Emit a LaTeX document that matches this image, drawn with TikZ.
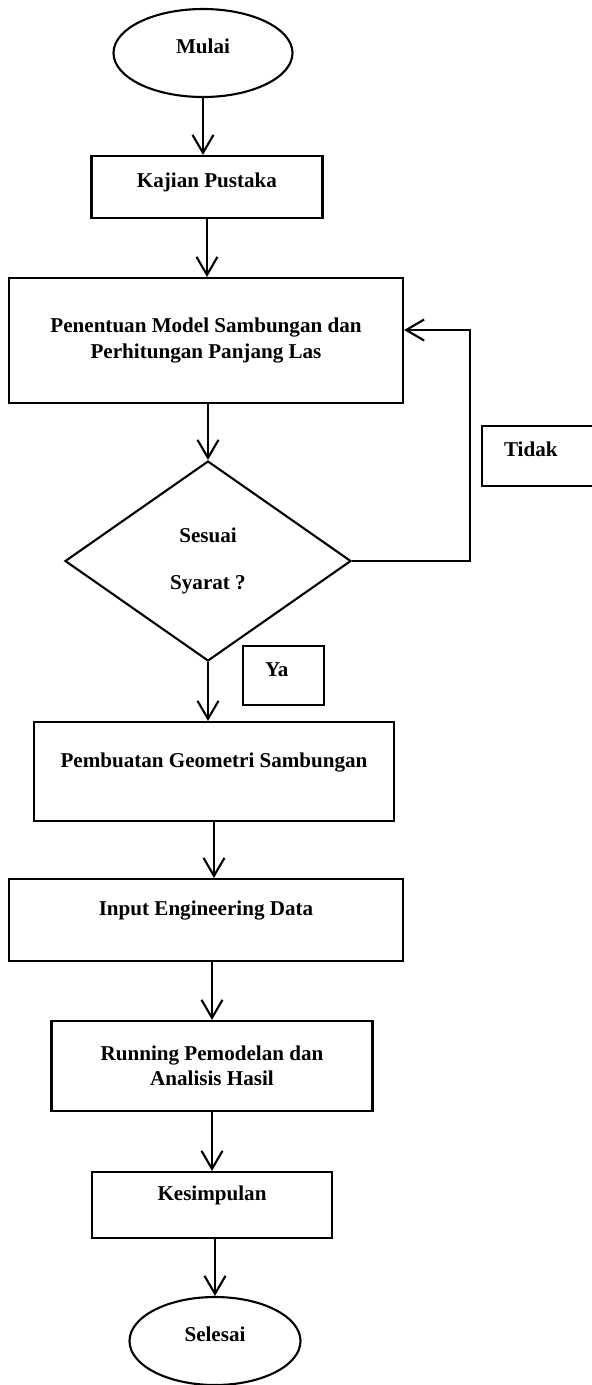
\documentclass[tikz,border=0pt]{standalone}
\usepackage{fontspec}
\setmainfont{Liberation Serif}
\usetikzlibrary{shapes.geometric, arrows.meta}

\begin{document}
\begin{tikzpicture}[
  term/.style={ellipse, draw, line width=1.2pt, inner sep=0pt, minimum height=1.76cm, text height=8pt, text depth=8pt},
  proc/.style={rectangle, draw, line width=1.2pt, align=center, inner sep=0pt},
  dec/.style={diamond, draw, line width=1.2pt, align=center, inner sep=0pt, minimum width=5.72cm, minimum height=4cm},
  tag/.style={rectangle, draw, line width=1.2pt, align=left, inner xsep=0.44cm, inner ysep=0pt, anchor=west, text height=8pt},
  flow/.style={line width=1.2pt, -{Straight Barb[length=0.36cm, width=0.42cm]}},
  font=\fontsize{12}{14.4}\selectfont\bfseries
]
  \useasboundingbox (0,0) rectangle (11.84,-27.7);

  %% ── Main column ───────────────────────────────────────────────────────────
  \node[term, minimum width=3.58cm] (mulai) at (4.06,-1.06) {Mulai};
  \node[proc, minimum width=4.62cm, minimum height=1.24cm, text height=8pt, text depth=6.9pt] (kajian) at (4.14,-3.74) {Kajian Pustaka};
  \node[proc, minimum width=7.88cm, minimum height=2.5cm] (tentukan) at (4.12,-6.81)
    {Penentuan Model Sambungan dan\\Perhitungan Panjang Las};
  \node[dec] (cek) at (4.16,-11.22) {Sesuai\\[12.8pt]Syarat ?};
  \node[proc, minimum width=7.2cm, minimum height=1.98cm, text height=8pt, text depth=13.1pt] (geometri) at (4.28,-15.43) {Pembuatan Geometri Sambungan};
  \node[proc, minimum width=7.88cm, minimum height=1.64cm, text height=8pt, text depth=12.6pt] (input) at (4.12,-18.4) {Input Engineering Data};
  \node[proc, minimum width=6.42cm, minimum height=1.8cm] (running) at (4.24,-21.32)
    {Running Pemodelan dan\\Analisis Hasil};
  \node[proc, minimum width=4.8cm, minimum height=1.32cm, text height=8pt, text depth=12.6pt] (simpulan) at (4.24,-24.1) {Kesimpulan};
  \node[term, minimum width=3.42cm] (selesai) at (4.30,-26.82) {Selesai};

  %% ── Branch labels ─────────────────────────────────────────────────────────
  \node[tag, text width=1.5cm, minimum height=1.2cm, text depth=8pt] (tidak) at (9.62,-9.12) {Tidak};
  \node[tag, text width=0.74cm, minimum height=1.18cm, text depth=7.4pt] (ya) at (4.84,-13.51) {Ya};

  %% ── Flow ──────────────────────────────────────────────────────────────────
  \draw[flow] (mulai) -- (mulai |- kajian.north);
  \draw[flow] (kajian) -- (kajian |- tentukan.north);
  \draw[flow] (cek.north |- tentukan.south) -- (cek.north);
  \draw[flow] (cek.south) -- (cek.south |- geometri.north);
  \draw[flow] (geometri) -- (geometri |- input.north);
  \draw[flow] (running |- input.south) -- (running);
  \draw[flow] (running) -- (running |- simpulan.north);
  \draw[flow] (selesai |- simpulan.south) -- (selesai);
  % Tidak: back to Penentuan
  \coordinate (balik) at (9.4,-6.6);
  \draw[flow] (cek.east) -| (balik) -- (balik -| tentukan.east);
\end{tikzpicture}
\end{document}
